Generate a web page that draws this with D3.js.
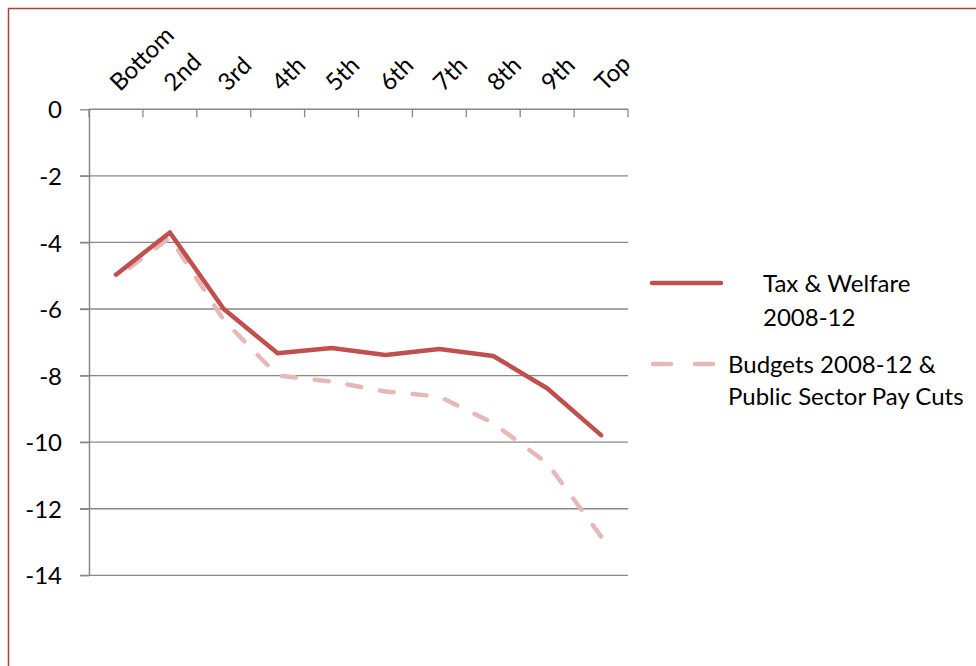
<!DOCTYPE html>
<html><head><meta charset="utf-8">
<script src="https://cdn.jsdelivr.net/npm/d3@7"></script>
<style>body{margin:0;background:#fff}svg{display:block}text{font-family:Lato,"Open Sans",sans-serif;fill:#000}</style>
</head><body>
<svg id="c" width="976" height="666"></svg>
<script>
const categories = ["Bottom","2nd","3rd","4th","5th","6th","7th","8th","9th","Top"];
const taxWelfare = [-4.97,-3.7,-6.0,-7.33,-7.17,-7.38,-7.2,-7.41,-8.38,-9.79];
const budgetsPay = [-5.07,-3.85,-6.33,-8.0,-8.18,-8.48,-8.63,-9.43,-10.63,-12.83];
const yTicks = [0,-2,-4,-6,-8,-10,-12,-14];
const seriesNames = [["Tax & Welfare","2008-12"],["Budgets 2008-12 &","Public Sector Pay Cuts"]];

const FS = 24;
const svg = d3.select("#c");
svg.append("rect").attr("x",8.5).attr("y",8.5).attr("width",1000).attr("height",700)
  .attr("fill","none").attr("stroke","#A8433F").attr("stroke-width",1.5);

const x = d3.scaleBand().domain(categories).range([89,628]);
const y = d3.scaleLinear().domain([0,-14]).range([109.3,575.3]);

const g = svg.append("g");
g.selectAll("line.grid").data(yTicks.filter(d=>d!==0)).join("line")
  .attr("x1",80).attr("x2",628).attr("y1",d=>y(d)).attr("y2",d=>y(d))
  .attr("stroke","#888").attr("stroke-width",1.3);
const yAxis = d3.axisLeft(y).tickValues(yTicks).tickSize(9).tickSizeOuter(0).tickFormat(d=>String(d));
const ya = g.append("g").attr("transform","translate(89,0)").call(yAxis);
ya.attr("font-family",null).attr("font-size",null);
ya.select(".domain").attr("stroke","#888").attr("stroke-width",1.5);
ya.selectAll(".tick line").attr("stroke","#888").attr("stroke-width",1.3);
ya.selectAll(".tick text").attr("x",-27).attr("dy","0.36em").style("font-size",FS+"px").attr("fill","#000");

const boundaries = categories.map(c=>x(c)).concat([x.range()[1]]);
g.append("line").attr("x1",89).attr("x2",628).attr("y1",y(0)).attr("y2",y(0)).attr("stroke","#888").attr("stroke-width",1.5);
g.selectAll("line.xt").data(boundaries).join("line")
  .attr("x1",d=>d).attr("x2",d=>d).attr("y1",y(0)).attr("y2",y(0)+8)
  .attr("stroke","#888").attr("stroke-width",1.3);
g.selectAll("text.xl").data(categories).join("text")
  .attr("transform",d=>`translate(${x(d)+x.bandwidth()/2+4},${y(0)-17}) rotate(-45)`)
  .style("font-size",FS+"px").text(d=>d);

const line = d3.line().x((d,i)=>x(categories[i])+x.bandwidth()/2).y(d=>y(d));
const dp = g.append("path").datum(budgetsPay).attr("d",line).attr("fill","none")
  .attr("stroke","#E6B9B8").attr("stroke-width",4.5).attr("stroke-dasharray","14,19").attr("stroke-linecap","round").attr("stroke-linejoin","round");
const L = dp.node().getTotalLength();
dp.attr("stroke-dashoffset", (((14 - L) % 33) + 33) % 33);
g.append("path").datum(taxWelfare).attr("d",line).attr("fill","none")
  .attr("stroke","#C0504D").attr("stroke-width",4.5).attr("stroke-linecap","round").attr("stroke-linejoin","round");

const lg = svg.append("g");
lg.append("line").attr("x1",652).attr("x2",721).attr("y1",283).attr("y2",283)
  .attr("stroke","#C0504D").attr("stroke-width",4.5).attr("stroke-linecap","round");
lg.append("line").attr("x1",653).attr("x2",716).attr("y1",364).attr("y2",364)
  .attr("stroke","#E6B9B8").attr("stroke-width",4.5).attr("stroke-dasharray","18,24").attr("stroke-linecap","round");
const t1 = lg.append("text").attr("y",292).style("font-size",FS+"px");
t1.append("tspan").attr("x",763).attr("dy",0).text(seriesNames[0][0]);
t1.append("tspan").attr("x",763).attr("dy",34).text(seriesNames[0][1]);
const t2 = lg.append("text").attr("y",373).style("font-size",FS+"px");
t2.append("tspan").attr("x",728).attr("dy",0).text(seriesNames[1][0]);
t2.append("tspan").attr("x",728).attr("dy",32).text(seriesNames[1][1]);
</script>
</body></html>
